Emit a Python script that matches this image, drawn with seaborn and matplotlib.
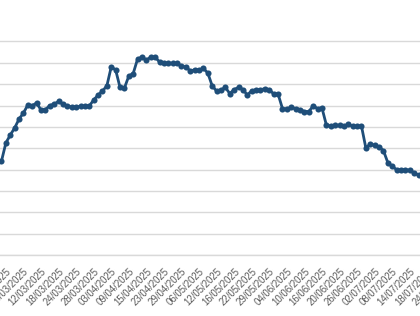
import matplotlib
matplotlib.use("Agg")
import matplotlib.pyplot as plt
import seaborn as sns
import pandas as pd

# Business-day series (UK trading days), first value = 27/02/2025
values = [4.40, 5.25, 5.62, 5.95, 6.37, 6.65, 7.03, 7.00, 7.12, 6.79,
          6.81, 7.00, 7.07, 7.19, 7.07, 6.98, 6.93, 6.93, 6.96, 6.96,
          6.98, 7.26, 7.49, 7.68, 7.92, 8.81, 8.67, 7.85, 7.82, 8.38,
          8.50, 9.18, 9.27, 9.13, 9.27, 9.27, 9.04, 8.98, 8.98, 8.97,
          8.97, 8.85, 8.81, 8.62, 8.67, 8.67, 8.74, 8.52, 7.92, 7.68,
          7.73, 7.85, 7.56, 7.75, 7.85, 7.75, 7.49, 7.70, 7.73, 7.75,
          7.78, 7.75, 7.54, 7.54, 6.86, 6.84, 6.91, 6.86, 6.81, 6.72,
          6.72, 6.98, 6.86, 6.89, 6.09, 6.04, 6.07, 6.07, 6.02, 6.14,
          6.02, 6.02, 6.04, 5.01, 5.20, 5.13, 5.06, 4.89, 4.33, 4.15,
          4.00, 3.98, 4.00, 3.96, 3.84, 3.75]

# Category labels shown every 4th trading day (first one = 2nd trading day in series)
tick_labels = ["28/02/2025", "06/03/2025", "12/03/2025", "18/03/2025", "24/03/2025",
               "28/03/2025", "03/04/2025", "09/04/2025", "15/04/2025", "23/04/2025",
               "29/04/2025", "06/05/2025", "12/05/2025", "16/05/2025", "22/05/2025",
               "29/05/2025", "04/06/2025", "10/06/2025", "16/06/2025", "20/06/2025",
               "26/06/2025", "02/07/2025", "08/07/2025", "14/07/2025", "18/07/2025",
               "24/07/2025"]
label_step = 4
label_offset = 1

df = pd.DataFrame({"pos": range(len(values)), "value": values})

sns.set_style("white")
plt.rcParams["font.family"] = ["Liberation Sans", "DejaVu Sans"]

W, H = 420, 316
fig = plt.figure(figsize=(W / 100, H / 100), dpi=100)

# axes extends beyond figure (the reference is a crop of a larger chart)
px_left, px_right = -20.0, 460.0
px_bottom, px_top = 255.0, 30.8
ax = fig.add_axes([px_left / W, (H - px_bottom) / H,
                   (px_right - px_left) / W, (px_bottom - px_top) / H])

line_color = "#1F4E79"
sns.lineplot(data=df, x="pos", y="value", ax=ax, color=line_color,
             linewidth=2.0, marker="o", markersize=4.4, markeredgewidth=0,
             zorder=3)

x0_px, dx_px = 1.49, 4.39
ax.set_xlim((px_left - x0_px) / dx_px, (px_right - x0_px) / dx_px)
ax.set_ylim(0, 10.5)

ax.set_yticks(range(0, 11))
ax.yaxis.grid(True, color="#d9d9d9", linewidth=1.0)
ax.xaxis.grid(False)
ax.tick_params(axis="y", left=False, labelleft=False)

positions = [label_offset + label_step * i for i in range(len(tick_labels))]
ax.set_xticks(positions)
ax.set_xticklabels(tick_labels, rotation=45, ha="right", va="top",
                   rotation_mode="anchor", fontsize=6.9, color="#595959")
ax.tick_params(axis="x", length=0, pad=8)

for s in ["top", "right", "left"]:
    ax.spines[s].set_visible(False)
ax.spines["bottom"].set_color("#d9d9d9")
ax.spines["bottom"].set_linewidth(1.0)
ax.set_xlabel("")
ax.set_ylabel("")

fig.savefig("out.png", dpi=100)
